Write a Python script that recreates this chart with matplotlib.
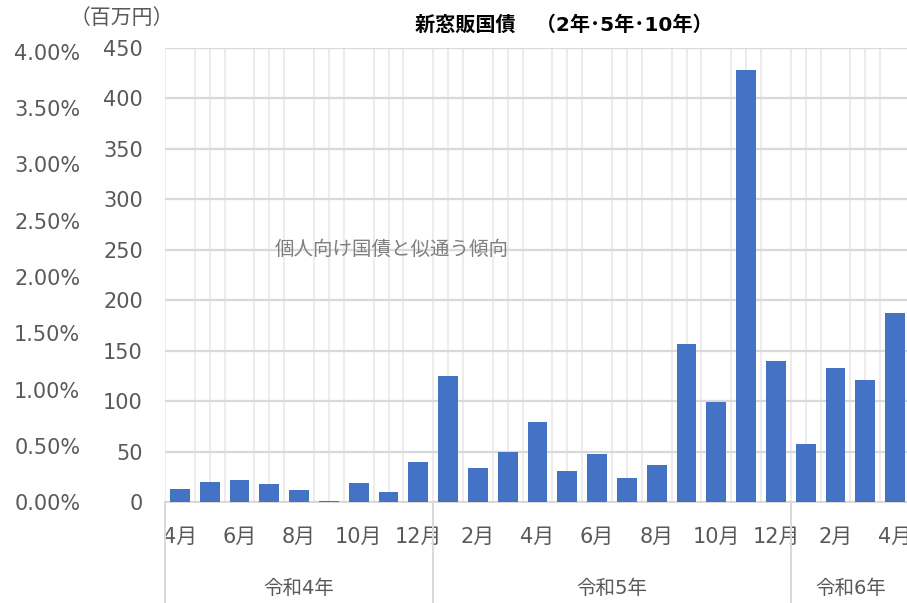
import numpy as np
import matplotlib.pyplot as plt
from matplotlib.ticker import PercentFormatter

plt.rcParams["font.family"] = ["DejaVu Sans", "Noto Sans CJK JP"]

# monthly sales (millions of yen), 令和4年4月 - 令和6年4月
months = ["4月", "5月", "6月", "7月", "8月", "9月", "10月", "11月", "12月",
          "1月", "2月", "3月", "4月", "5月", "6月", "7月", "8月", "9月", "10月", "11月", "12月",
          "1月", "2月", "3月", "4月"]
sales = [13, 20, 22, 18, 12, 1, 18.5, 10, 40,
         125, 34, 49.5, 79, 31, 48, 24, 37, 157, 99, 428, 140,
         57.5, 133, 121, 187]
years = ["令和4年", "令和5年", "令和6年"]
year_spans = [(0, 8), (9, 20), (21, 24)]

gray = "#595959"

fig = plt.figure(figsize=(9.07, 6.03), dpi=100)
ax = fig.add_axes([165 / 907, 101 / 603, 745 / 907, 454 / 603])

x = np.arange(len(sales))
ax.bar(x, sales, width=0.67, color="#4472C4", zorder=3)

ax.set_xlim(-0.5, len(sales) - 0.5)
ax.set_ylim(0, 450)
ax.set_yticks(np.arange(0, 451, 50))
ax.tick_params(axis="y", length=0, pad=16, labelsize=15, labelcolor=gray)

ax.set_xticks(x[::2])
ax.set_xticklabels(months[::2])
ax.tick_params(axis="x", length=0, pad=18, labelsize=15, labelcolor=gray)
ax.set_xticks(np.arange(-0.5, len(sales), 0.5), minor=True)
ax.tick_params(axis="x", which="minor", length=0)

ax.grid(axis="y", color="#d9d9d9", linewidth=1.6, zorder=0)
ax.grid(axis="x", which="minor", color="#ececec", linewidth=1.4, zorder=0)
ax.grid(axis="x", which="major", visible=False)

for s in ["top", "right", "left"]:
    ax.spines[s].set_visible(False)
ax.spines["bottom"].set_color("#d9d9d9")
ax.spines["bottom"].set_linewidth(1.4)

# percent axis on the far left
ax2 = ax.twinx()
ax2.set_ylim(0, 0.04 * 454 / 450)
ax2.set_yticks(np.arange(0, 0.0401, 0.005))
ax2.yaxis.set_major_formatter(PercentFormatter(1.0, decimals=2))
ax2.yaxis.tick_left()
ax2.tick_params(axis="y", length=0, pad=61, labelsize=15, labelcolor=gray)
for s in ax2.spines.values():
    s.set_visible(False)

# year groups under the month labels
trans = ax.get_xaxis_transform()
bounds = [-0.5] + [e + 0.5 for _, e in year_spans]
for b in bounds:
    ax.plot([b, b], [0, -0.23], transform=trans, color="#d9d9d9",
            linewidth=1.4, clip_on=False)
for name, (s, e) in zip(years, year_spans):
    ax.text((s + e) / 2, -0.19, name, transform=trans, ha="center", va="center",
            fontsize=14, color=gray)

fig.text(122 / 907, 1 - 18 / 603, "（百万円）", ha="center", va="center",
         fontsize=15, color=gray)
fig.text(564 / 907, 1 - 25 / 603, "新窓販国債　（2年･5年･10年）", ha="center",
         va="center", fontsize=14.5, fontweight="bold", color="#000000")
ax.text(7.1, 250, "個人向け国債と似通う傾向", ha="center", va="center",
        fontsize=14, color="#7f7f7f")

fig.savefig("out.png", dpi=100)
